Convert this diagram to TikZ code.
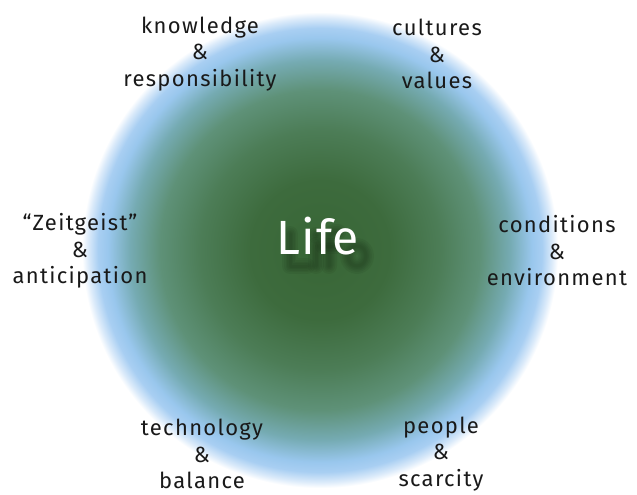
\documentclass[tikz,border=0pt]{standalone}
\usepackage{fontspec}
\setmainfont{Fira Sans}[LetterSpace=6]
\newfontfamily\lifefont{Fira Sans}[LetterSpace=2]
\pgfdeclareradialshading{lifeshade}{\pgfpoint{0pt}{0pt}}{%
rgb(0pt)=(0.22,0.40,0.21);
rgb(70pt)=(0.24,0.42,0.24);
rgb(120pt)=(0.30,0.49,0.34);
rgb(160pt)=(0.37,0.57,0.47);
rgb(190pt)=(0.46,0.67,0.70);
rgb(212pt)=(0.60,0.78,0.93);
rgb(222pt)=(0.66,0.81,0.95);
rgb(232pt)=(0.86,0.92,0.98);
rgb(238pt)=(1,1,1);
rgb(242pt)=(1,1,1)}
\definecolor{labeltext}{RGB}{25,25,25}
\definecolor{lifeshadow}{RGB}{25,45,22}
\tikzset{
  lbl/.style={align=center, text=labeltext, font=\fontsize{22}{26.5}\selectfont, inner sep=0pt},
  lifetext/.style={font=\lifefont\fontsize{48}{48}\selectfont, inner sep=0pt},
  shadowstroke/.style={draw=lifeshadow, draw opacity=0.09, line cap=round, line join=round},
}
\begin{document}
\begin{tikzpicture}[x=1pt,y=-1pt]
\useasboundingbox (0,0) rectangle (637,495);
\node[inner sep=0pt] (disc) at (320,250) {\pgfuseshading{lifeshade}};
% blurred shadow of the word
\foreach \w in {16,12,9,6,3}{
  \draw[shadowstroke, line width=\w pt] (290,234) -- (290,266) -- (307,266);
  \draw[shadowstroke, line width=\w pt] (316,245) -- (316,266);
  \draw[shadowstroke, line width=\w pt] (316,235) -- (316,235.5);
  \draw[shadowstroke, line width=\w pt] (329,266) -- (329,240) .. controls (329,233) and (333,232) .. (338,232);
  \draw[shadowstroke, line width=\w pt] (323,246) -- (337,246);
  \draw[shadowstroke, line width=\w pt] (357,256) ellipse (9 and 10);
}
\node[lifetext, text=white] (life) at (318,236) {Life};
\node[lbl] (k) at (200,54) {knowledge\\\&\\responsibility};
\node[lbl] (c) at (437,54) {cultures\\\&\\values};
\node[lbl] (z) at (80,251) {“Zeitgeist”\\\&\\anticipation};
\node[lbl] (e) at (557,251) {conditions\\\&\\environment};
\node[lbl] (t) at (202,454) {technology\\\&\\balance};
\node[lbl] (p) at (441,454) {people\\\&\\scarcity};
\end{tikzpicture}
\end{document}
